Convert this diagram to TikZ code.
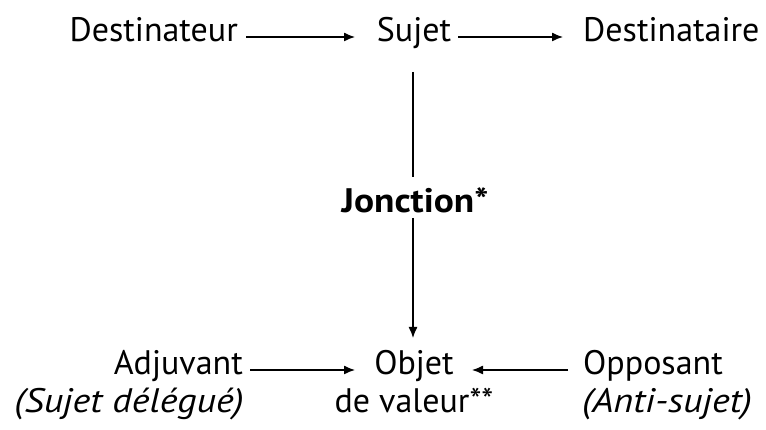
\documentclass[tikz,border=0pt]{standalone}
\usepackage{fontspec}
\setmainfont{PT Sans}
\newfontfamily\wideit{PT Sans Italic}[FakeStretch=1.12]
\newfontfamily\widebf{PT Sans Bold}[FakeStretch=1.1]
\usetikzlibrary{arrows.meta}
\begin{document}
\begin{tikzpicture}[x=1pt,y=1pt,
  lbl/.style={inner sep=0pt,font=\fontsize{34}{40}\selectfont},
  itl/.style={lbl,font=\fontsize{34}{40}\wideit},
  bld/.style={lbl,font=\fontsize{34}{40}\widebf},
  conn/.style={line width=1.3pt,-{Latex[length=11pt,width=9pt]}},
  plain/.style={line width=1.3pt}]
\useasboundingbox (0,0) rectangle (766,430);
\node[lbl,anchor=base east] (dst) at (238,388) {Destinateur};
\node[lbl,anchor=base] (suj) at (414,388) {Sujet};
\node[lbl,anchor=base west] (dta) at (583,388) {Destinataire};
\node[bld,anchor=base] (jon) at (415,217) {Jonction*};
\node[lbl,anchor=base] (obj) at (414,55) {Objet};
\node[lbl,anchor=base] (val) at (414,17) {de valeur**};
\node[lbl,anchor=base east] (adj) at (243,55) {Adjuvant};
\node[itl,anchor=base east] (sdl) at (244,17) {(Sujet délégué)};
\node[lbl,anchor=base west] (opp) at (583,55) {Opposant};
\node[itl,anchor=base west] (ant) at (582,17) {(Anti-sujet)};
\draw[conn] ([xshift=8pt,yshift=5pt]dst.base east) -- ([xshift=-59pt,yshift=5pt]suj.base);
\draw[conn] ([xshift=44pt,yshift=5pt]suj.base) -- ([xshift=-20pt,yshift=5pt]dta.base west);
\draw[plain] ([xshift=-1pt,yshift=-30pt]suj.base) -- ([xshift=-2pt,yshift=36pt]jon.base);
\draw[conn] ([xshift=-2pt,yshift=-5pt]jon.base) -- ([xshift=-1pt,yshift=37pt]obj.base);
\draw[conn] ([xshift=7pt,yshift=5pt]adj.base east) -- ([xshift=-59pt,yshift=5pt]obj.base);
\draw[conn] ([xshift=-15pt,yshift=5pt]opp.base west) -- ([xshift=58pt,yshift=5pt]obj.base);
\end{tikzpicture}
\end{document}
